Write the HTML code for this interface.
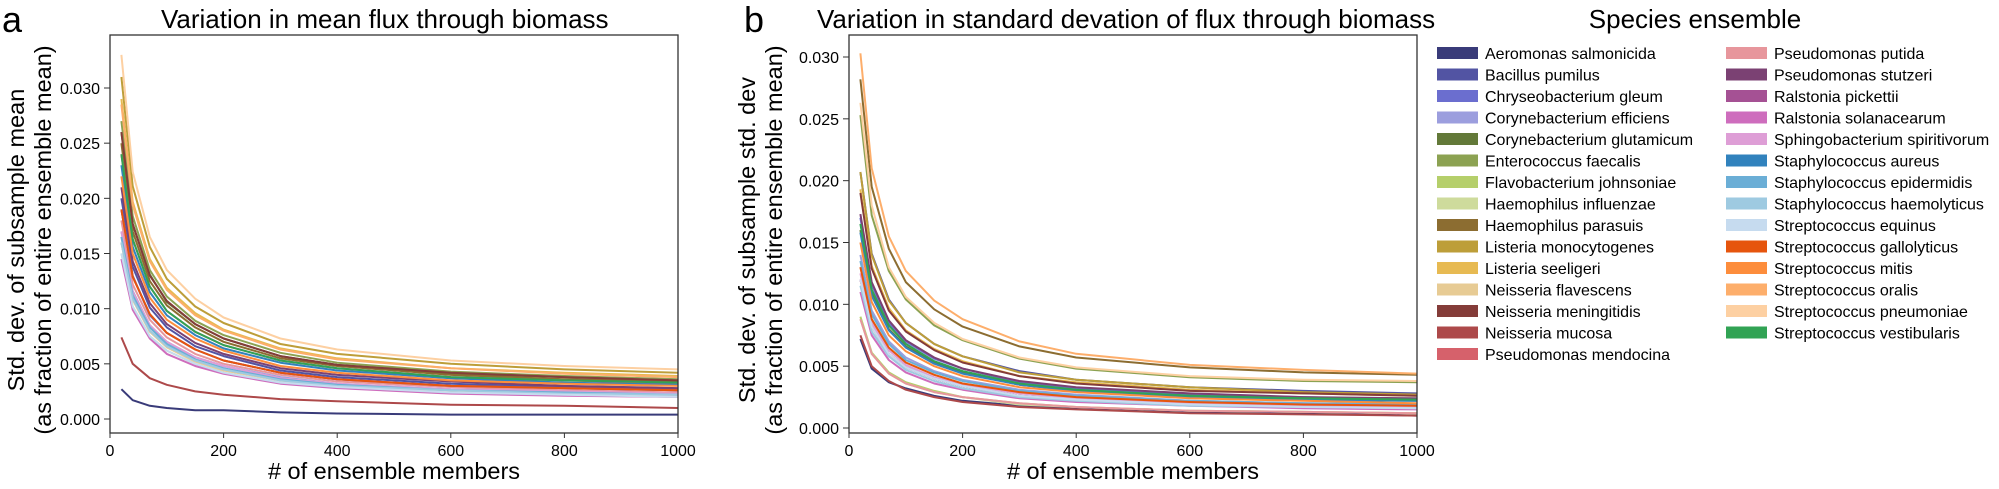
<!DOCTYPE html>
<html><head><meta charset="utf-8"><style>
html,body{margin:0;padding:0;background:#fff;}
svg{display:block;font-family:"Liberation Sans",sans-serif;}
</style></head><body>
<svg id="fig" width="1999" height="489" viewBox="0 0 1999 489" xmlns="http://www.w3.org/2000/svg">
<text x="2" y="32" font-size="36">a</text>
<text x="161" y="28" font-size="26">Variation in mean flux through biomass</text>
<text x="744" y="32" font-size="36">b</text>
<text x="817" y="28" font-size="26">Variation in standard devation of flux through biomass</text>
<text x="1695" y="28" font-size="26" text-anchor="middle">Species ensemble</text>
<g id="legend"></g>
<g id="pa"></g>
<g id="pb"></g>
</svg>
<script>
const species = ["Aeromonas salmonicida","Bacillus pumilus","Chryseobacterium gleum","Corynebacterium efficiens","Corynebacterium glutamicum","Enterococcus faecalis","Flavobacterium johnsoniae","Haemophilus influenzae","Haemophilus parasuis","Listeria monocytogenes","Listeria seeligeri","Neisseria flavescens","Neisseria meningitidis","Neisseria mucosa","Pseudomonas mendocina","Pseudomonas putida","Pseudomonas stutzeri","Ralstonia pickettii","Ralstonia solanacearum","Sphingobacterium spiritivorum","Staphylococcus aureus","Staphylococcus epidermidis","Staphylococcus haemolyticus","Streptococcus equinus","Streptococcus gallolyticus","Streptococcus mitis","Streptococcus oralis","Streptococcus pneumoniae","Streptococcus vestibularis"];
const colors = ["#393b79","#5254a3","#6b6ecf","#9c9ede","#637939","#8ca252","#b5cf6b","#cedb9c","#8c6d31","#bd9e39","#e7ba52","#e7cb94","#843c39","#ad494a","#d6616b","#e7969c","#7b4173","#a55194","#ce6dbd","#de9ed6","#3182bd","#6baed6","#9ecae1","#c6dbef","#e6550d","#fd8d3c","#fdae6b","#fdd0a2","#31a354"];
const members = [20,40,70,100,150,200,300,400,600,800,1000];
const xTicks = [0,200,400,600,800,1000];
const yTicks = [0,0.005,0.010,0.015,0.020,0.025,0.030];
const yTickLabels = ["0.000","0.005","0.010","0.015","0.020","0.025","0.030"];
const meanVar = [
[.0027,.0017,.0012,.0010,.0008,.0008,.0006,.0005,.0004,.0004,.0004],
[.020,.0138,.0101,.0083,.0066,.0057,.0044,.0038,.0032,.0029,.0027],
[.019,.0130,.0094,.0078,.0063,.0053,.0042,.0036,.0030,.0028,.0026],
[.017,.0116,.0085,.0070,.0056,.0048,.0038,.0032,.0027,.0025,.0023],
[.026,.0176,.0131,.0106,.0086,.0073,.0057,.0049,.0041,.0038,.0035],
[.027,.0184,.0135,.0111,.0089,.0076,.0060,.0051,.0043,.0039,.0036],
[.016,.0109,.0080,.0066,.0053,.0045,.0035,.0030,.0026,.0023,.0022],
[.015,.0102,.0075,.0062,.0050,.0042,.0033,.0029,.0024,.0022,.0020],
[.025,.0170,.0125,.0103,.0083,.0070,.0055,.0048,.0040,.0036,.0034],
[.031,.0211,.0156,.0127,.0102,.0087,.0068,.0059,.0050,.0045,.0042],
[.029,.0197,.0145,.0119,.0096,.0081,.0064,.0055,.0046,.0042,.0039],
[.016,.0108,.0079,.0065,.0052,.0044,.0035,.0030,.0026,.0023,.0022],
[.026,.0177,.0130,.0107,.0086,.0073,.0057,.0049,.0042,.0038,.0035],
[.0074,.0050,.0037,.0031,.0025,.0022,.0018,.0016,.0013,.0012,.0010],
[.024,.0163,.0120,.0098,.0079,.0067,.0053,.0046,.0038,.0035,.0032],
[.018,.0122,.0090,.0074,.0059,.0050,.0040,.0034,.0029,.0026,.0024],
[.021,.0143,.0105,.0086,.0069,.0059,.0046,.0040,.0034,.0030,.0028],
[.019,.0129,.0095,.0078,.0063,.0053,.0042,.0036,.0030,.0028,.0026],
[.0145,.0099,.0073,.0059,.0048,.0041,.0032,.0028,.0023,.0021,.0020],
[.017,.0115,.0085,.0070,.0056,.0048,.0037,.0032,.0027,.0025,.0023],
[.023,.0156,.0115,.0094,.0076,.0064,.0051,.0044,.0037,.0033,.0031],
[.0165,.0112,.0083,.0068,.0054,.0046,.0036,.0031,.0026,.0024,.0022],
[.016,.0109,.0080,.0066,.0053,.0045,.0035,.0030,.0026,.0023,.0022],
[.015,.0102,.0075,.0062,.0050,.0042,.0033,.0029,.0024,.0022,.0020],
[.019,.0129,.0095,.0078,.0063,.0053,.0042,.0036,.0030,.0028,.0026],
[.022,.0150,.0110,.0090,.0073,.0062,.0048,.0042,.0035,.0032,.0030],
[.0285,.0194,.0143,.0117,.0094,.0080,.0063,.0054,.0046,.0041,.0038],
[.033,.0224,.0165,.0135,.0109,.0092,.0073,.0063,.0053,.0048,.0045],
[.024,.0163,.0120,.0098,.0079,.0067,.0053,.0046,.0038,.0035,.0033]];
const sdVar = [
[.0072,.0048,.0037,.0032,.0026,.0022,.0018,.0016,.0013,.0012,.0010],
[.0207,.0141,.0104,.0085,.0068,.0058,.0046,.0039,.0033,.0030,.0028],
[.017,.0116,.0085,.0070,.0056,.0048,.0037,.0032,.0027,.0025,.0023],
[.014,.0095,.0070,.0057,.0046,.0039,.0031,.0027,.0022,.0020,.0019],
[.016,.0109,.0080,.0066,.0053,.0045,.0035,.0030,.0026,.0023,.0022],
[.0253,.0172,.0127,.0104,.0083,.0071,.0056,.0048,.0041,.0038,.0037],
[.009,.0061,.0045,.0037,.0030,.0025,.0020,.0017,.0014,.0013,.0012],
[.0088,.0060,.0044,.0036,.0029,.0025,.0019,.0017,.0014,.0013,.0012],
[.0282,.0195,.0145,.0118,.0096,.0082,.0066,.0057,.0049,.0045,.0043],
[.0207,.0140,.0103,.0085,.0068,.0058,.0045,.0039,.0033,.0029,.0027],
[.0193,.0131,.0097,.0079,.0064,.0054,.0042,.0037,.0031,.0028,.0026],
[.013,.0088,.0065,.0053,.0043,.0036,.0029,.0025,.0021,.0019,.0018],
[.019,.0129,.0095,.0078,.0063,.0053,.0042,.0036,.0030,.0028,.0026],
[.0075,.0050,.0038,.0031,.0025,.0021,.0017,.0015,.0012,.0011,.0010],
[.012,.0082,.0060,.0049,.0040,.0034,.0026,.0023,.0019,.0017,.0016],
[.0088,.0060,.0044,.0036,.0029,.0025,.0020,.0017,.0014,.0013,.0012],
[.0173,.0118,.0087,.0071,.0057,.0048,.0038,.0033,.0028,.0025,.0024],
[.012,.0082,.0060,.0049,.0040,.0034,.0026,.0023,.0019,.0018,.0017],
[.011,.0075,.0055,.0045,.0036,.0031,.0024,.0021,.0018,.0016,.0015],
[.0125,.0085,.0063,.0051,.0041,.0035,.0028,.0024,.0020,.0018,.0017],
[.0158,.0107,.0079,.0065,.0052,.0044,.0035,.0030,.0025,.0023,.0022],
[.0135,.0092,.0068,.0055,.0045,.0038,.0030,.0026,.0022,.0020,.0019],
[.0115,.0078,.0058,.0047,.0038,.0032,.0025,.0022,.0018,.0017,.0016],
[.012,.0082,.0060,.0049,.0040,.0034,.0026,.0023,.0019,.0017,.0016],
[.013,.0088,.0065,.0053,.0043,.0036,.0029,.0025,.0021,.0019,.0018],
[.015,.0102,.0075,.0062,.0050,.0042,.0033,.0029,.0024,.0022,.0020],
[.0303,.0210,.0155,.0127,.0103,.0088,.0070,.0060,.0051,.0047,.0044],
[.0263,.0180,.0130,.0106,.0085,.0072,.0057,.0049,.0042,.0039,.0038],
[.0165,.0112,.0083,.0068,.0054,.0046,.0036,.0031,.0026,.0024,.0023]];

const NS = "http://www.w3.org/2000/svg";
function mk(tag, parent, attrs){const e=document.createElementNS(NS,tag);for(const k in attrs)e.setAttribute(k,attrs[k]);parent.appendChild(e);return e;}

function panel(g, box, y0px, y30px, data, ytitle){
  const xS = v => box.l + (v/1000)*(box.r-box.l);
  const yS = v => y0px + (v/0.030)*(y30px-y0px);
  data.forEach((s,i)=>{
    const d = s.map((v,j)=>(j?"L":"M")+xS(members[j]).toFixed(1)+","+yS(v).toFixed(1)).join(" ");
    const p = mk("path", g, {d:d, fill:"none", stroke:colors[i], "stroke-width":"2", "stroke-linejoin":"round"});
    
    
  });
  const fr = mk("rect", g, {x:box.l, y:box.t, width:box.r-box.l, height:box.b-box.t, fill:"none", stroke:"#333", "stroke-width":"1.3"});
  
  
  xTicks.forEach(v=>{
    mk("line", g, {x1:xS(v), x2:xS(v), y1:box.b, y2:box.b+5, stroke:"#333"});
    const t = mk("text", g, {x:xS(v), y:box.b+23, "font-size":"16", "text-anchor":"middle"});
    t.textContent = v;
    
    
  });
  yTicks.forEach((v,i)=>{
    mk("line", g, {x1:box.l-6, x2:box.l, y1:yS(v), y2:yS(v), stroke:"#333"});
    const t = mk("text", g, {x:box.l-10, y:yS(v)+6, "font-size":"16", "text-anchor":"end"});
    t.textContent = yTickLabels[i];
    
    
  });
  const xt = mk("text", g, {x:(box.l+box.r)/2, y:box.b+46, "font-size":"23.5", "text-anchor":"middle"});
  xt.textContent = "# of ensemble members";
  
  
  const cy = 240;
  const yt1 = mk("text", g, {x:box.tx1, y:cy, "font-size":"23.5", "text-anchor":"middle", transform:"rotate(-90 "+box.tx1+" "+cy+")"});
  yt1.textContent = ytitle;
  
  
  const yt2 = mk("text", g, {x:box.tx2, y:cy, "font-size":"23.5", "text-anchor":"middle", transform:"rotate(-90 "+box.tx2+" "+cy+")"});
  yt2.textContent = "(as fraction of entire ensemble mean)";
  
  
}
panel(document.getElementById("pa"), {l:110,r:678,t:35,b:433,tx1:24,tx2:51}, 419, 88, meanVar, "Std. dev. of subsample mean");
panel(document.getElementById("pb"), {l:849,r:1417,t:35,b:433,tx1:755,tx2:782}, 428, 57, sdVar, "Std. dev. of subsample std. dev");

const lg = document.getElementById("legend");
species.forEach((n,i)=>{
  const col = i<15?0:1, row = i<15?i:i-15;
  const x = col? 1726:1437, y = 47 + row*21.5;
  const r = mk("rect", lg, {x:x, y:y, width:41, height:12, fill:colors[i]});
  
  
  const t = mk("text", lg, {x:x+48, y:y+12, "font-size":"16"});
  t.textContent = n;
  
  
});
</script>
</body></html>
